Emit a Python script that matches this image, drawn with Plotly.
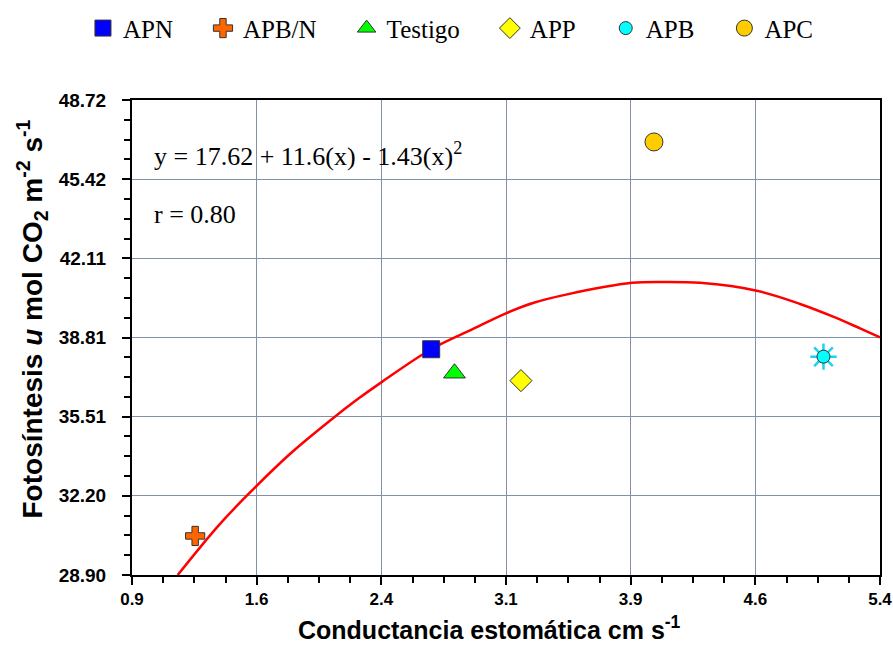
import numpy as np
import plotly.graph_objects as go

# ---- data ----
series_names = ["APN", "APB/N", "Testigo", "APP", "APB", "APC"]
series_x = [2.70, 1.28, 2.84, 3.24, 5.06, 4.04]
series_y = [38.32, 30.53, 37.32, 37.01, 38.01, 46.97]

curve_x = [1.175, 1.415, 1.595, 1.855, 2.096, 2.256, 2.406, 2.702, 2.937, 3.153,
           3.317, 3.518, 3.908, 4.10, 4.318, 4.659, 4.919, 5.118, 5.28, 5.40]
curve_y = [28.90, 30.92, 32.24, 33.98, 35.37, 36.23, 36.97, 38.33, 39.12, 39.83,
           40.26, 40.61, 41.09, 41.13, 41.09, 40.76, 40.21, 39.68, 39.19, 38.82]

x_tick_labels = ["0.9", "1.6", "2.4", "3.1", "3.9", "4.6", "5.4"]
y_tick_labels = ["28.90", "32.20", "35.51", "38.81", "42.11", "45.42", "48.72"]
x_range = [0.9, 5.4]
y_range = [28.90, 48.72]

equation_text = "y = 17.62 + 11.6(x) - 1.43(x)<sup>2</sup>"
r_text = "r = 0.80"
x_title = "Conductancia estomática cm s<sup>-1</sup>"
y_title = "Fotosíntesis <i>u</i> mol CO<sub>2</sub> m<sup>-2</sup> s<sup>-1</sup>"

# ---- styles ----
styles = {
    "APN": dict(symbol="square", color="#0000FF", size=17),
    "APB/N": dict(symbol="cross", color="#FF6600", size=16),
    "Testigo": dict(symbol="triangle-up", color="#00FF00", size=19),
    "APP": dict(symbol="diamond", color="#FFFF00", size=17),
    "APB": dict(symbol="circle", color="#00FFFF", size=13),
    "APC": dict(symbol="circle", color="#FFCC00", size=18),
}

serif = "Liberation Serif, Times New Roman, serif"
sans = "Liberation Sans, Arial, sans-serif"
legend_pad = "\u00a0" * 4

fig = go.Figure()

fig.add_trace(go.Scatter(
    x=curve_x, y=curve_y, mode="lines", line=dict(color="#FF0000", width=2.5, shape="spline"),
    showlegend=False, hoverinfo="skip"))

for i, (name, xv, yv) in enumerate(zip(series_names, series_x, series_y)):
    st = styles[name]
    label = name + (legend_pad if i < len(series_names) - 1 else "")
    if name == "APB":
        fig.add_trace(go.Scatter(
            x=[xv], y=[yv], mode="markers", showlegend=False, legendgroup=name,
            marker=dict(symbol="asterisk-open", size=22, line=dict(color="#000000", width=2.5))))
    fig.add_trace(go.Scatter(
        x=[xv], y=[yv], mode="markers", name=label, legendgroup=name,
        marker=dict(symbol=st["symbol"], color=st["color"], size=st["size"],
                    line=dict(color="#333333", width=1))))

x_tickvals = np.linspace(x_range[0], x_range[1], len(x_tick_labels))
y_tickvals = np.linspace(y_range[0], y_range[1], len(y_tick_labels))

grid_color = "#8391a8"

fig.update_xaxes(
    range=x_range, tickmode="array", tickvals=x_tickvals, ticktext=x_tick_labels,
    showgrid=True, gridcolor=grid_color, gridwidth=1,
    showline=True, linecolor="#000000", linewidth=2, mirror=True,
    ticks="outside", ticklen=8, tickwidth=2, tickcolor="#000000",
    minor=dict(tickmode="linear", tick0=x_range[0], dtick=(x_range[1] - x_range[0]) / 24,
               ticks="outside", ticklen=6, tickwidth=2, tickcolor="#000000", showgrid=False),
    tickfont=dict(family=sans, size=17, color="#000000", weight="bold"),
    zeroline=False, automargin=False,
)
fig.update_yaxes(
    range=y_range, tickmode="array", tickvals=y_tickvals, ticktext=y_tick_labels,
    showgrid=True, gridcolor=grid_color, gridwidth=1,
    showline=True, linecolor="#000000", linewidth=2, mirror=True,
    ticks="outside", ticklen=8, tickwidth=2, tickcolor="#000000",
    minor=dict(tickmode="linear", tick0=y_range[0], dtick=(y_range[1] - y_range[0]) / 24,
               ticks="outside", ticklen=6, tickwidth=2, tickcolor="#000000", showgrid=False),
    tickfont=dict(family=sans, size=19, color="#000000", weight="bold"),
    ticklabelstandoff=12,
    zeroline=False, automargin=False,
)

fig.add_annotation(x=0.4786, y=-0.112, xref="paper", yref="paper", text=x_title,
                   showarrow=False, xanchor="center", yanchor="middle",
                   font=dict(family=sans, size=25, color="#000000", weight="bold"))
fig.add_annotation(x=-0.1337, y=0.54, xref="paper", yref="paper", text=y_title,
                   textangle=-90, showarrow=False, xanchor="center", yanchor="middle",
                   font=dict(family=sans, size=28, color="#000000", weight="bold"))
fig.add_annotation(x=0.027, y=0.885, xref="paper", yref="paper", text=equation_text,
                   showarrow=False, xanchor="left", yanchor="middle",
                   font=dict(family=serif, size=26, color="#000000"))
fig.add_annotation(x=0.027, y=0.758, xref="paper", yref="paper", text=r_text,
                   showarrow=False, xanchor="left", yanchor="middle",
                   font=dict(family=serif, size=26, color="#000000"))

fig.update_layout(
    width=893, height=659,
    margin=dict(l=132, r=13, t=100, b=84, autoexpand=False),
    paper_bgcolor="#FFFFFF", plot_bgcolor="#FFFFFF",
    legend=dict(orientation="h", xref="container", yref="container", x=0.505, y=0.957,
                xanchor="center", yanchor="middle",
                font=dict(family=serif, size=25, color="#000000"),
                itemwidth=30, tracegroupgap=0, bgcolor="rgba(0,0,0,0)"),
    showlegend=True,
)

fig.write_html("out.html")
